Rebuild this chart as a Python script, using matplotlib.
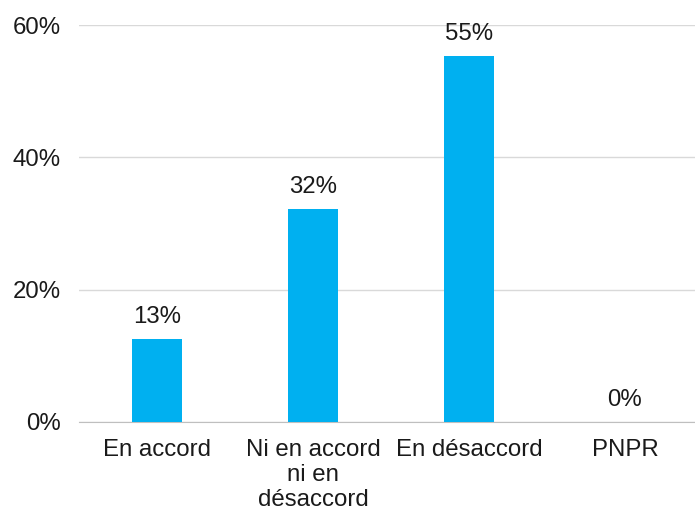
import matplotlib
matplotlib.use("Agg")
import matplotlib.pyplot as plt
from matplotlib.ticker import FuncFormatter

plt.rcParams['font.family'] = ['Liberation Sans', 'DejaVu Sans']

categories = ["En accord", "Ni en accord\nni en\ndésaccord", "En désaccord", "PNPR"]
values = [12.5, 32.2, 55.3, 0.0]
labels = ["13%", "32%", "55%", "0%"]

fs = 17.3
fig = plt.figure(figsize=(6.95, 5.14), dpi=100)
ax = fig.add_axes([79 / 695, 1 - 422 / 514, 624 / 695, 397 / 514])

x = range(len(categories))
ax.bar(x, values, width=0.32, color="#00B0F0", zorder=3)
for i, v in enumerate(values):
    ax.text(i, v + 1.7, labels[i], ha="center", va="bottom", fontsize=fs, color="#1a1a1a")

ax.set_ylim(0, 60)
ax.set_xlim(-0.5, 3.5)
ax.set_yticks([0, 20, 40, 60])
ax.yaxis.set_major_formatter(FuncFormatter(lambda v, p: "%d%%" % v))
ax.set_xticks(list(x))
ax.set_xticklabels(categories, fontsize=fs, color="#1a1a1a", linespacing=1.2)
ax.tick_params(axis="y", labelsize=fs, labelcolor="#1a1a1a", length=0, pad=13)
ax.tick_params(axis="x", length=0, pad=12)
ax.grid(axis="y", color="#D9D9D9", linewidth=1, zorder=0)
for s in ["top", "right", "left"]:
    ax.spines[s].set_visible(False)
ax.spines["bottom"].set_color("#BFBFBF")

fig.savefig("out.png", dpi=100)
